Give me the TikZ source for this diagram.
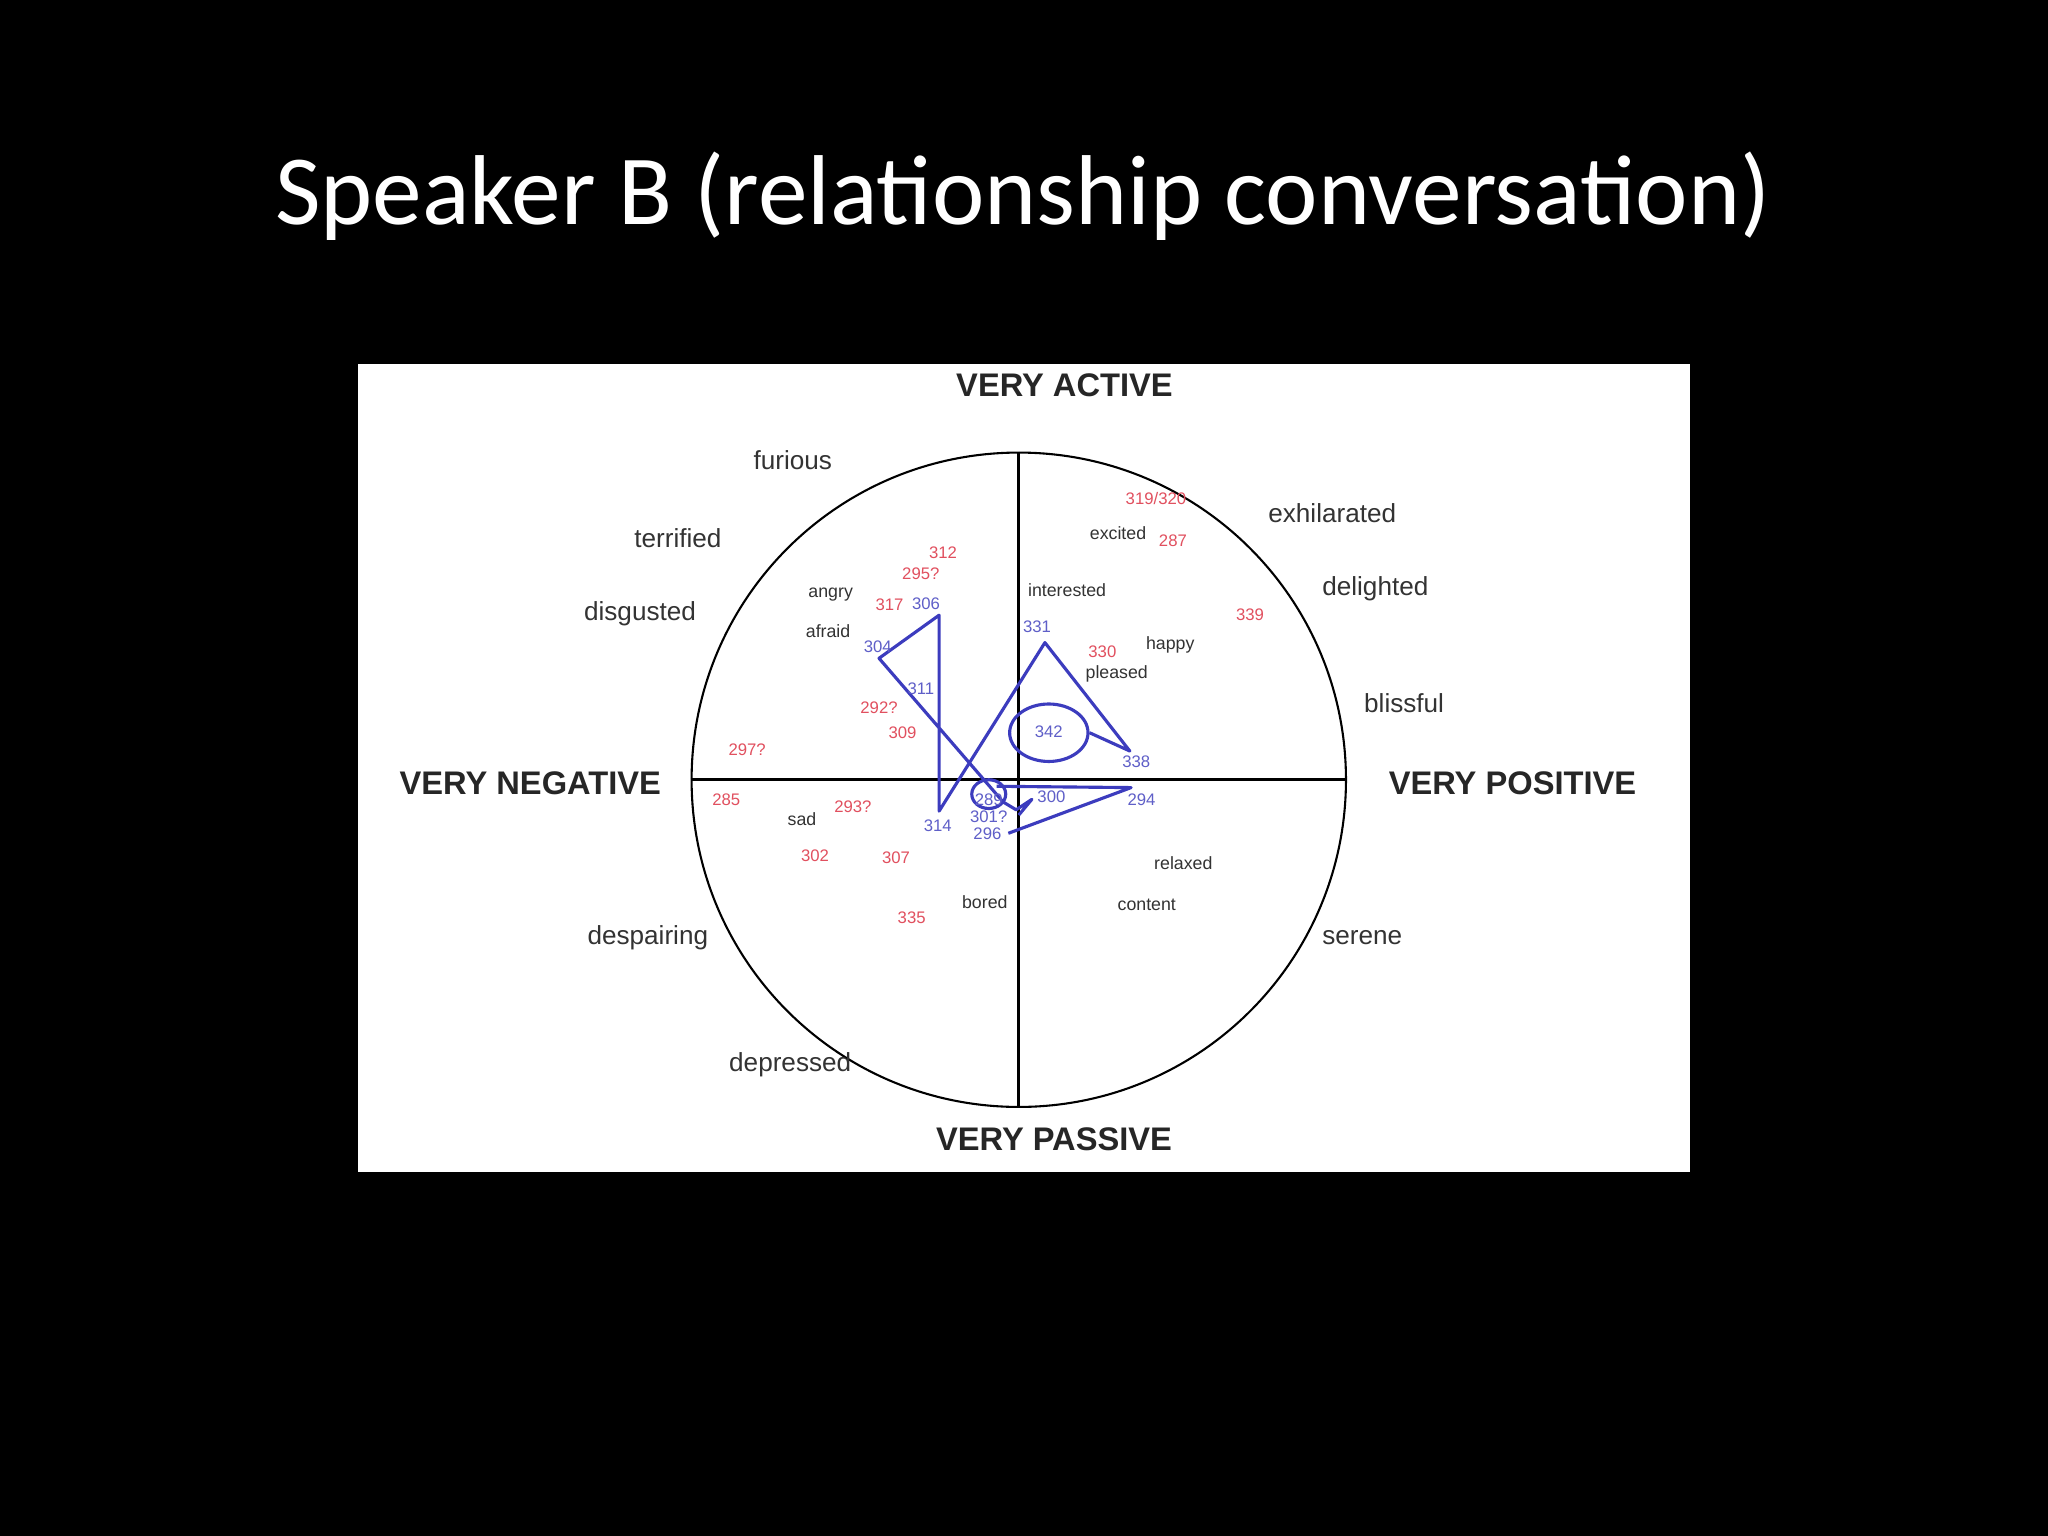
\documentclass[tikz,border=0pt]{standalone}
\usepackage{fontspec}
\usetikzlibrary{shapes.geometric}
\setmainfont{Liberation Sans}
\newfontfamily\titlefont{Carlito}
\definecolor{nred}{RGB}{225,80,95}
\definecolor{nblue}{RGB}{95,95,200}
\definecolor{pblue}{RGB}{60,60,190}
\begin{document}
\begin{tikzpicture}[x=0.5pt,y=-0.5pt,
  big/.style={font=\fontsize{10}{12}\selectfont, text=black!80},
  axis/.style={font=\bfseries\fontsize{12.5}{14}\selectfont, text=black!85},
  small/.style={font=\fontsize{6.8}{8}\selectfont, text=black!80},
  rnum/.style={font=\fontsize{6.4}{8}\selectfont, text=nred},
  bnum/.style={font=\fontsize{6.4}{8}\selectfont, text=nblue},
  pth/.style={draw=pblue, line width=1.2pt, line join=round}]
\fill[black] (0,0) rectangle (1568,1176);
\useasboundingbox (0,0) rectangle (1568,1176);
\node[text=white, font=\titlefont\fontsize{38}{44}\selectfont] (title) at (783,150) {Speaker B (relationship conversation)};
\fill[white] (274,279) rectangle (1294,897);
\node[circle, draw, line width=0.8pt, minimum size=250.5pt, inner sep=0] (c) at (780,597) {};
\draw[line width=1pt] (c.north) -- (c.south);
\draw[line width=1pt] (c.west) -- (c.east);
% axis labels
\node[axis] (va) at (815,295) {VERY ACTIVE};
\node[axis] (vn) at (406,600) {VERY NEGATIVE};
\node[axis] (vp) at (1158,600) {VERY POSITIVE};
\node[axis] (vpa) at (807,872) {VERY PASSIVE};
% big words
\node[big] (w1) at (607,352) {furious};
\node[big] (w2) at (519,412) {terrified};
\node[big] (w3) at (490,470) {disgusted};
\node[big] (w4) at (1020,393) {exhilarated};
\node[big] (w5) at (1053,451) {delighted};
\node[big] (w6) at (1075,538) {blissful};
\node[big] (w7) at (496,718) {despairing};
\node[big] (w8) at (1043,718) {serene};
\node[big] (w9) at (605,815) {depressed};
% small words
\node[small] (s1) at (856,408) {excited};
\node[small] (s2) at (817,452) {interested};
\node[small] (s3) at (636,455) {angry};
\node[small] (s4) at (634,483) {afraid};
\node[small] (s5) at (896,494) {happy};
\node[small] (s6) at (855,516) {pleased};
\node[small] (s7) at (614,627) {sad};
\node[small] (s8) at (906,661) {relaxed};
\node[small] (s9) at (878,693) {content};
\node[small] (s10) at (754,691) {bored};
% red numbers
\node[rnum] (r1) at (885,382) {319/320};
\node[rnum] (r2) at (898,414) {287};
\node[rnum] (r3) at (722,423) {312};
\node[rnum] (r4) at (705,439) {295?};
\node[rnum] (r5) at (681,463) {317};
\node[rnum] (r6) at (957,471) {339};
\node[rnum] (r7) at (844,499) {330};
\node[rnum] (r8) at (673,542) {292?};
\node[rnum] (r9) at (691,561) {309};
\node[rnum] (r10) at (572,574) {297?};
\node[rnum] (r11) at (556,612) {285};
\node[rnum] (r12) at (653,618) {293?};
\node[rnum] (r13) at (624,655) {302};
\node[rnum] (r14) at (686,657) {307};
\node[rnum] (r15) at (698,703) {335};
% path coordinates
\coordinate (p306) at (719,471);
\coordinate (p304) at (673,504);
\coordinate (p314) at (719,621);
\coordinate (p331) at (800,492);
\coordinate (p338) at (865,575);
\coordinate (p294) at (866,603);
\coordinate (p296) at (772,638);
\coordinate (pa) at (763,602);
\coordinate (pb) at (768,614);
\coordinate (pc) at (778,620);
\coordinate (pd) at (790,612);
\coordinate (pe) at (780,624);
\node[pth, ellipse, minimum width=30pt, minimum height=22pt, inner sep=0] (e342) at (803,561) {};
\node[pth, ellipse, minimum width=13pt, minimum height=11pt, inner sep=0] (e289) at (757,608) {};
\draw[pth] (e342.east) -- (p338) -- (p331) -- (p314) -- (p306) -- (p304) -- (pb) -- (pc) -- (pd) -- (pe);
\draw[pth] (pa) -- (p294) -- (p296);
% blue numbers
\node[bnum] (b1) at (709,462) {306};
\node[bnum] (b2) at (672,495) {304};
\node[bnum] (b3) at (705,527) {311};
\node[bnum] (b4) at (794,480) {331};
\node[bnum] (b5) at (803,560) {342};
\node[bnum] (b6) at (870,583) {338};
\node[bnum] (b7) at (805,610) {300};
\node[bnum] (b8) at (874,612) {294};
\node[bnum] (b9) at (757,612) {289};
\node[bnum] (b10) at (757,625) {301?};
\node[bnum] (b11) at (756,638) {296};
\node[bnum] (b12) at (718,632) {314};
\end{tikzpicture}
\end{document}
